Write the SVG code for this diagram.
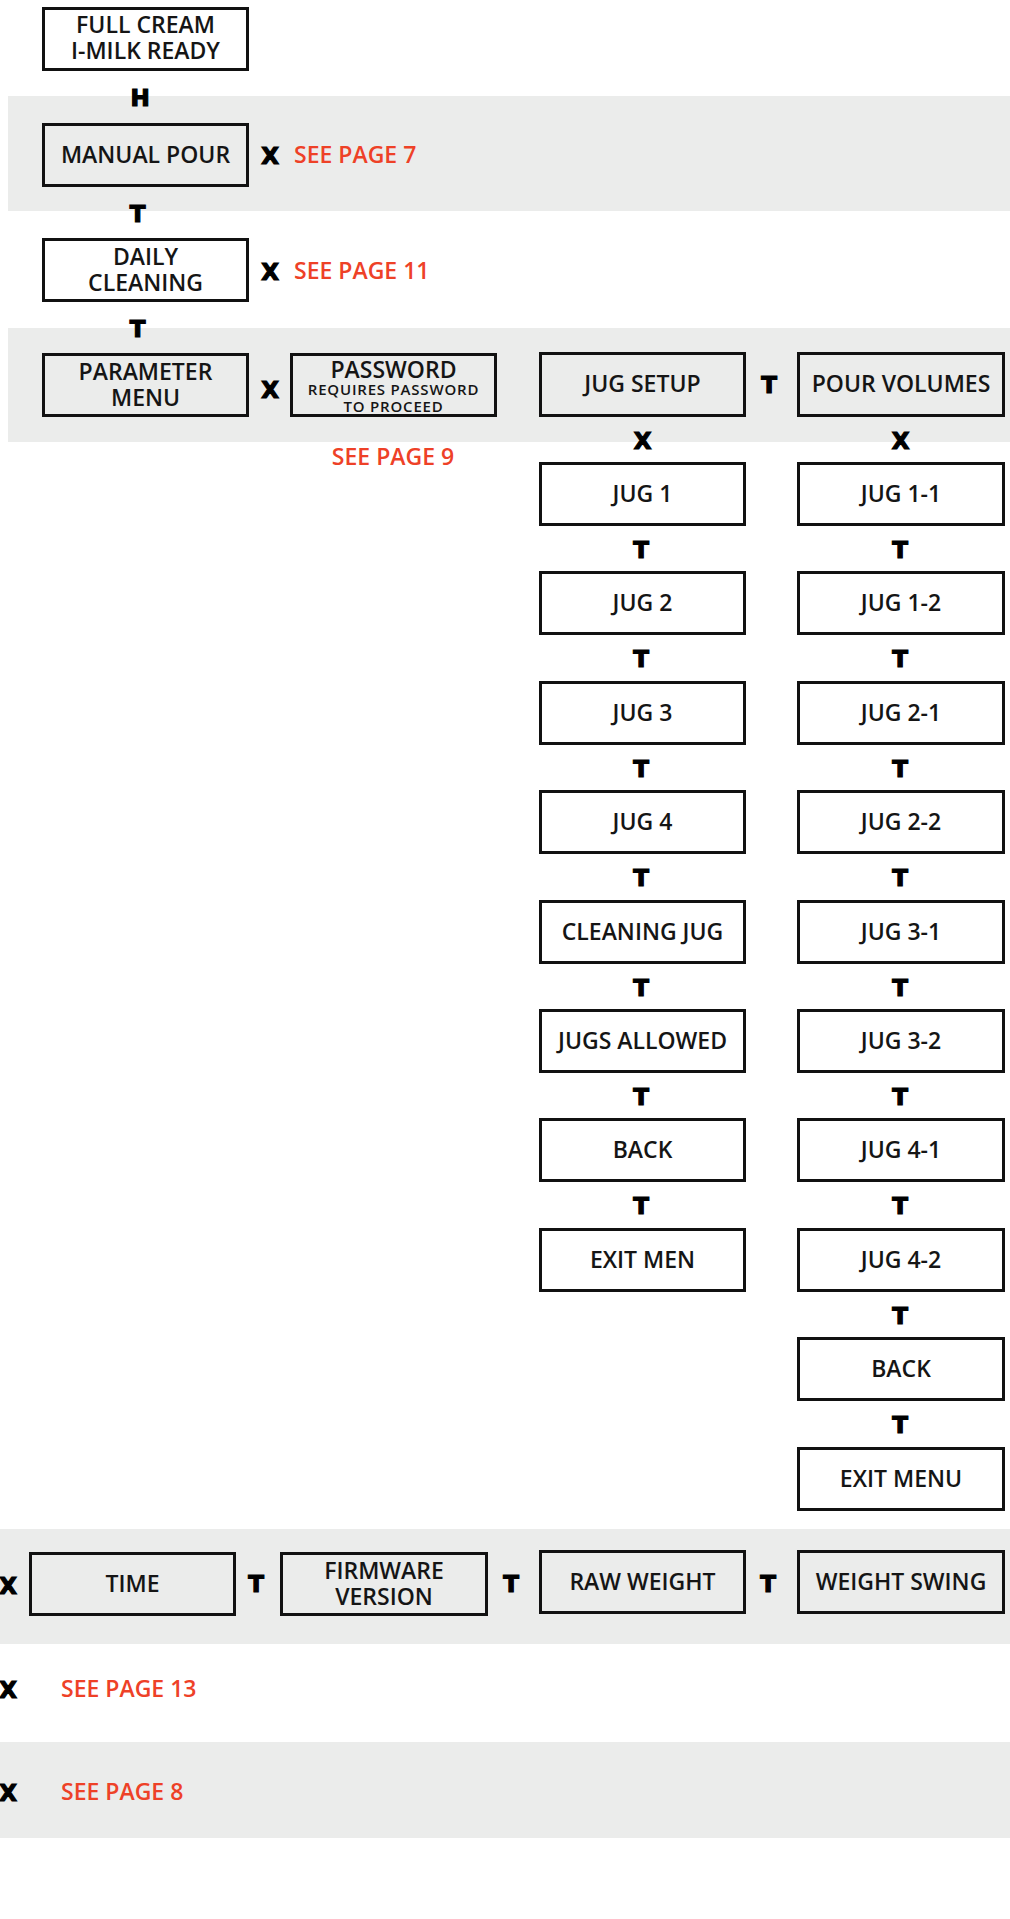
<svg xmlns="http://www.w3.org/2000/svg" width="1010" height="1919" viewBox="0 0 1010 1919">
<style>
.band{fill:#EBECEB}
.box{fill:none;stroke:#111;stroke-width:3}
.t{font-family:"Open Sans","Liberation Sans",sans-serif;font-weight:600;font-size:23px;fill:#151515;text-anchor:middle}
.s{font-size:15px;letter-spacing:0.8px}
.r{font-family:"Open Sans","Liberation Sans",sans-serif;font-weight:600;font-size:23px;fill:#EE4127}
.k{font-family:"DejaVu Sans","Liberation Sans",sans-serif;font-weight:700;font-size:23px;fill:#000;stroke:#000;stroke-width:1.2;text-anchor:middle}
</style>
<rect width="1010" height="1919" fill="#fff"/>
<g id="bands">
<rect class="band" x="8" y="96" width="1002" height="115"/>
<rect class="band" x="8" y="328" width="1002" height="114"/>
<rect class="band" x="0" y="1529" width="1010" height="115"/>
<rect class="band" x="0" y="1742" width="1010" height="96"/>
</g>
<g id="n-fullcream"><rect class="box" x="43.5" y="8.5" width="204" height="61"/><text class="t" x="145.5" y="33">FULL CREAM<tspan x="145.5" y="59">I-MILK READY</tspan></text></g>
<g id="n-manualpour"><rect class="box" x="43.5" y="124.5" width="204" height="61"/><text class="t" x="145.5" y="163">MANUAL POUR</text></g>
<g id="n-dailycleaning"><rect class="box" x="43.5" y="239.5" width="204" height="61"/><text class="t" x="145.5" y="265">DAILY<tspan x="145.5" y="291">CLEANING</tspan></text></g>
<g id="n-parameter"><rect class="box" x="43.5" y="354.5" width="204" height="61"/><text class="t" x="145.5" y="380">PARAMETER<tspan x="145.5" y="406">MENU</tspan></text></g>
<g id="n-password"><rect class="box" x="291.5" y="354.5" width="204" height="61"/><text class="t" x="393.5" y="378">PASSWORD<tspan class="s" x="393.5" y="395">REQUIRES PASSWORD</tspan><tspan class="s" x="393.5" y="412">TO PROCEED</tspan></text></g>
<g id="n-jugsetup"><rect class="box" x="540.5" y="353.5" width="204" height="62"/><text class="t" x="642.5" y="392">JUG SETUP</text></g>
<g id="n-pourvolumes"><rect class="box" x="798.5" y="353.5" width="205" height="62"/><text class="t" x="901" y="392">POUR VOLUMES</text></g>
<g id="n-jug1"><rect class="box" x="540.5" y="463.5" width="204" height="61"/><text class="t" x="642.5" y="502">JUG 1</text></g>
<g id="n-jug2"><rect class="box" x="540.5" y="572.5" width="204" height="61"/><text class="t" x="642.5" y="611">JUG 2</text></g>
<g id="n-jug3"><rect class="box" x="540.5" y="682.5" width="204" height="61"/><text class="t" x="642.5" y="721">JUG 3</text></g>
<g id="n-jug4"><rect class="box" x="540.5" y="791.5" width="204" height="61"/><text class="t" x="642.5" y="830">JUG 4</text></g>
<g id="n-cleaningjug"><rect class="box" x="540.5" y="901.5" width="204" height="61"/><text class="t" x="642.5" y="940">CLEANING JUG</text></g>
<g id="n-jugsallowed"><rect class="box" x="540.5" y="1010.5" width="204" height="61"/><text class="t" x="642.5" y="1049">JUGS ALLOWED</text></g>
<g id="n-back1"><rect class="box" x="540.5" y="1119.5" width="204" height="61"/><text class="t" x="642.5" y="1158">BACK</text></g>
<g id="n-exitmen"><rect class="box" x="540.5" y="1229.5" width="204" height="61"/><text class="t" x="642.5" y="1268">EXIT MEN</text></g>
<g id="n-jug11"><rect class="box" x="798.5" y="463.5" width="205" height="61"/><text class="t" x="901" y="502">JUG 1-1</text></g>
<g id="n-jug12"><rect class="box" x="798.5" y="572.5" width="205" height="61"/><text class="t" x="901" y="611">JUG 1-2</text></g>
<g id="n-jug21"><rect class="box" x="798.5" y="682.5" width="205" height="61"/><text class="t" x="901" y="721">JUG 2-1</text></g>
<g id="n-jug22"><rect class="box" x="798.5" y="791.5" width="205" height="61"/><text class="t" x="901" y="830">JUG 2-2</text></g>
<g id="n-jug31"><rect class="box" x="798.5" y="901.5" width="205" height="61"/><text class="t" x="901" y="940">JUG 3-1</text></g>
<g id="n-jug32"><rect class="box" x="798.5" y="1010.5" width="205" height="61"/><text class="t" x="901" y="1049">JUG 3-2</text></g>
<g id="n-jug41"><rect class="box" x="798.5" y="1119.5" width="205" height="61"/><text class="t" x="901" y="1158">JUG 4-1</text></g>
<g id="n-jug42"><rect class="box" x="798.5" y="1229.5" width="205" height="61"/><text class="t" x="901" y="1268">JUG 4-2</text></g>
<g id="n-back2"><rect class="box" x="798.5" y="1338.5" width="205" height="61"/><text class="t" x="901" y="1377">BACK</text></g>
<g id="n-exitmenu"><rect class="box" x="798.5" y="1448.5" width="205" height="61"/><text class="t" x="901" y="1487">EXIT MENU</text></g>
<g id="n-time"><rect class="box" x="30.5" y="1553.5" width="204" height="61"/><text class="t" x="132.5" y="1592">TIME</text></g>
<g id="n-firmware"><rect class="box" x="281.5" y="1553.5" width="205" height="61"/><text class="t" x="384" y="1579">FIRMWARE<tspan x="384" y="1605">VERSION</tspan></text></g>
<g id="n-rawweight"><rect class="box" x="540.5" y="1551.5" width="204" height="61"/><text class="t" x="642.5" y="1590">RAW WEIGHT</text></g>
<g id="n-weightswing"><rect class="box" x="798.5" y="1551.5" width="205" height="61"/><text class="t" x="901" y="1590">WEIGHT SWING</text></g>
<g id="refs">
<text class="r" x="294" y="163">SEE PAGE 7</text>
<text class="r" x="294" y="279">SEE PAGE 11</text>
<text class="r" x="393" y="465" text-anchor="middle">SEE PAGE 9</text>
<text class="r" x="61" y="1697">SEE PAGE 13</text>
<text class="r" x="61" y="1800">SEE PAGE 8</text>
</g>
<g id="connectors">
<text class="k" x="140" y="106">H</text>
<text class="k" x="270" y="164">X</text>
<text class="k" x="137.5" y="222">T</text>
<text class="k" x="270" y="280">X</text>
<text class="k" x="137.5" y="337">T</text>
<text class="k" x="270" y="398">X</text>
<text class="k" x="769" y="393">T</text>
<text class="k" x="642.5" y="449">X</text>
<text class="k" x="900.5" y="449">X</text>
<text class="k" x="641" y="558">T</text>
<text class="k" x="641" y="667">T</text>
<text class="k" x="641" y="777">T</text>
<text class="k" x="641" y="886">T</text>
<text class="k" x="641" y="996">T</text>
<text class="k" x="641" y="1105">T</text>
<text class="k" x="641" y="1214">T</text>
<text class="k" x="900" y="558">T</text>
<text class="k" x="900" y="667">T</text>
<text class="k" x="900" y="777">T</text>
<text class="k" x="900" y="886">T</text>
<text class="k" x="900" y="996">T</text>
<text class="k" x="900" y="1105">T</text>
<text class="k" x="900" y="1214">T</text>
<text class="k" x="900" y="1324">T</text>
<text class="k" x="900" y="1433">T</text>
<text class="k" x="8" y="1594">X</text>
<text class="k" x="256" y="1592">T</text>
<text class="k" x="511" y="1592">T</text>
<text class="k" x="768" y="1592">T</text>
<text class="k" x="8" y="1698">X</text>
<text class="k" x="8" y="1801">X</text>
</g>
</svg>
